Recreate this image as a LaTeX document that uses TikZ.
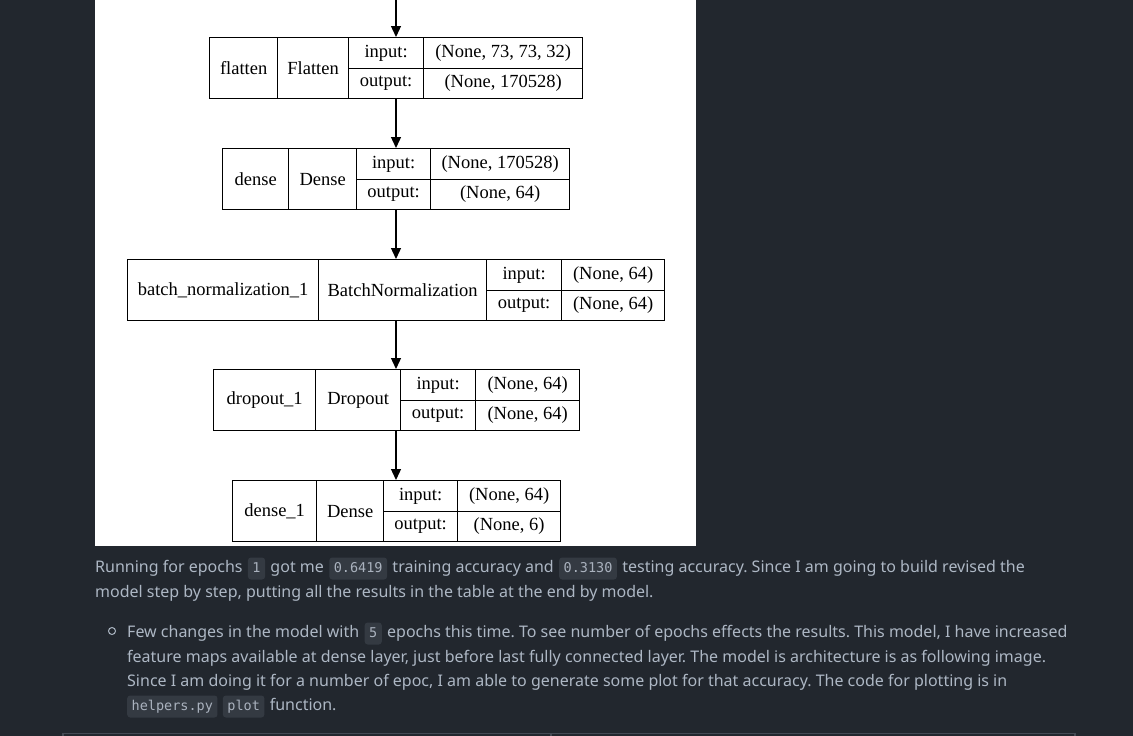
\documentclass[tikz,border=0pt]{standalone}
\usepackage{fontspec}
\setmainfont{Noto Sans}
\newfontfamily\dgfont{Liberation Serif}
\newfontfamily\codefont{DejaVu Sans Mono}
\usetikzlibrary{arrows.meta}
\definecolor{bg}{RGB}{34,39,46}
\definecolor{fg}{RGB}{173,183,196}
\definecolor{codebg}{RGB}{52,58,66}
\definecolor{codefg}{RGB}{170,178,190}
\definecolor{rulec}{RGB}{68,74,84}
\frenchspacing
\newcommand\recpos[6]{\def\ry{#1}\def\xa{#2}\def\xb{#3}\def\xc{#4}\def\xd{#5}\def\xe{#6}}
\newcommand\rec[5]{%
  \node[cell, minimum width=\xe-\xa, minimum height=61] (#1) at (\xa,\ry) {};
  \node[cell, minimum width=\xb-\xa, minimum height=61] (#1-n) at (\xa,\ry) {#2};
  \node[cell, minimum width=\xc-\xb, minimum height=61] (#1-t) at (\xb,\ry) {#3};
  \node[cell, minimum width=\xd-\xc, minimum height=30.5] (#1-il) at (\xc,\ry) {input:};
  \node[cell, minimum width=\xd-\xc, minimum height=30.5] (#1-ol) at (\xc,{\ry+30.5}) {output:};
  \node[cell, minimum width=\xe-\xd, minimum height=30.5] (#1-iv) at (\xd,\ry) {#4};
  \node[cell, minimum width=\xe-\xd, minimum height=30.5] (#1-ov) at (\xd,{\ry+30.5}) {#5};
}
\begin{document}
\begin{tikzpicture}[x=1pt,y=-1pt,
  cell/.style={draw=black, line width=1.3pt, anchor=north west, inner sep=0pt,
    font=\dgfont\fontsize{18.5}{20}\selectfont, text=black},
  arr/.style={draw=black, line width=1.3pt, -{Triangle[length=11pt,width=10pt]}},
  txt/.style={anchor=base west, inner sep=0pt, text=fg, font=\fontsize{16}{20}\selectfont\frenchspacing},
  code/.style={anchor=base west, inner xsep=4.5pt, inner ysep=4.5pt, text height=10pt, text depth=3pt,
    fill=codebg, rounded corners=3pt, text=codefg, font=\codefont\fontsize{13.5}{15}\selectfont}]
\useasboundingbox (0,0) rectangle (1133,736);
\clip (0,0) rectangle (1133,736);
\fill[bg] (0,0) rectangle (1133,736);
\fill[white] (95,0) rectangle (696,546);
% records
\recpos{37}{209}{277}{348}{423}{582}
\rec{L1}{flatten}{Flatten}{(None, 73, 73, 32)}{(None, 170528)}
\recpos{148}{222}{288}{356}{430}{569}
\rec{L2}{dense}{Dense}{(None, 170528)}{(None, 64)}
\recpos{259}{127}{318}{486}{561}{664}
\rec{L3}{batch\_normalization\_1}{BatchNormalization}{(None, 64)}{(None, 64)}
\recpos{369}{213}{315}{400}{475}{579}
\rec{L4}{dropout\_1}{Dropout}{(None, 64)}{(None, 64)}
\recpos{480}{232}{316}{383}{457}{560}
\rec{L5}{dense\_1}{Dense}{(None, 64)}{(None, 6)}
\coordinate (top) at (396,0);
\draw[arr] (top) -- (top |- L1.north);
\draw[arr] (top |- L1.south) -- (top |- L2.north);
\draw[arr] (top |- L2.south) -- (top |- L3.north);
\draw[arr] (top |- L3.south) -- (top |- L4.north);
\draw[arr] (top |- L4.south) -- (top |- L5.north);
% text paragraph
\node[txt] (t1) at (95,572) {Running for epochs};
\node[code] (c1) at ([xshift=5pt]t1.base east) {1};
\node[txt] (t2) at ([xshift=5pt]c1.base east) {got me};
\node[code] (c2) at ([xshift=5pt]t2.base east) {0.6419};
\node[txt] (t3) at ([xshift=5pt]c2.base east) {training accuracy and};
\node[code] (c3) at ([xshift=5pt]t3.base east) {0.3130};
\node[txt] (t4) at ([xshift=5pt]c3.base east) {testing accuracy. Since I am going to build revised the};
\node[txt] (t5) at (95,597) {model step by step, putting all the results in the table at the end by model.};
% bullet
\node[circle, draw=fg, line width=1pt, minimum size=7pt, inner sep=0pt] (b1) at (112,631) {};
\node[txt] (u1) at (127,637) {Few changes in the model with};
\node[code] (c4) at ([xshift=5pt]u1.base east) {5};
\node[txt] (u2) at ([xshift=5pt]c4.base east) {epochs this time. To see number of epochs effects the results. This model, I have increased};
\node[txt] (u3) at (127,662) {feature maps available at dense layer, just before last fully connected layer. The model is architecture is as following image.};
\node[txt] (u4) at (127,686) {Since I am doing it for a number of epoc, I am able to generate some plot for that accuracy. The code for plotting is in};
\node[code] (c5) at (127,710) {helpers.py};
\node[code] (c6) at ([xshift=5pt]c5.base east) {plot};
\node[txt] (u5) at ([xshift=5pt]c6.base east) {function.};
% table top
\draw[rulec, line width=1.2pt] (63,740) -- (63,733.5) -- (1075,733.5) -- (1075,740);
\draw[rulec, line width=1.2pt] (551,733.5) -- (551,740);
\end{tikzpicture}
\end{document}
